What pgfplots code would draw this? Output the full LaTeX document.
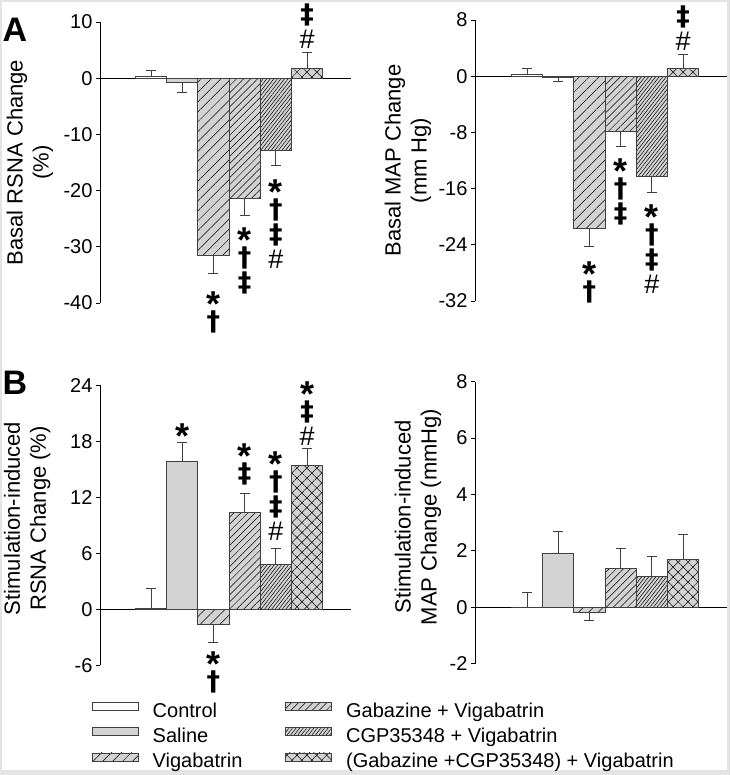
\documentclass[border=0pt]{standalone}
\usepackage{fontspec}
\setmainfont{Liberation Sans}
\newfontfamily\symfont{DejaVu Sans}
\usepackage{pgfplots}
\pgfplotsset{compat=1.18}
\usetikzlibrary{patterns.meta}

\definecolor{barfill}{HTML}{D3D3D3}
\definecolor{barline}{HTML}{404040}
\definecolor{errc}{HTML}{404040}
\definecolor{framec}{HTML}{E4E4E4}

\pgfplotsset{
  panel/.style={
    scale only axis, clip=false,
    axis x line=none, axis y line=left,
    axis line style={-, line width=0.8pt, black},
    xtick=\empty,
    tick align=outside, major tick length=4pt,
    tick style={line width=0.8pt, black},
    yticklabel style={font=\fontsize{20}{20}\selectfont},
    ylabel style={font=\fontsize{22}{26}\selectfont, align=center, anchor=center},
  },
  bstyle/.style={ybar, bar width=1, bar shift=0pt, draw=barline, line width=0.7pt,
    legend image code/.code={\draw[##1] (0pt,2pt) rectangle (46pt,10pt);}},
  c0/.style={bstyle, fill=white},
  c1/.style={bstyle, fill=barfill},
  c2/.style={bstyle, fill=barfill, postaction={pattern={Lines[angle=45,distance=7pt,line width=0.5pt]}, pattern color=black}},
  c3/.style={bstyle, fill=barfill, postaction={pattern={Lines[angle=45,distance=5pt,line width=0.5pt]}, pattern color=black}},
  c4/.style={bstyle, fill=barfill, postaction={pattern={Lines[angle=52,distance=2.8pt,line width=0.5pt]}, pattern color=black}},
  c5/.style={bstyle, fill=barfill, postaction={pattern={Hatch[angle=45,distance=7pt,line width=0.5pt]}, pattern color=black}},
  errp/.style={error bars/.cd, y dir=plus, y explicit,
    error bar style={line width=0.8pt, errc},
    error mark options={rotate=90, mark size=5pt, line width=0.8pt, errc}},
  errm/.style={error bars/.cd, y dir=minus, y explicit,
    error bar style={line width=0.8pt, errc},
    error mark options={rotate=90, mark size=5pt, line width=0.8pt, errc}},
}
\tikzset{sym/.style={font=\fontsize{27}{25}\selectfont, align=center, inner sep=0pt, anchor=north}}
% significance marks: * vs control, dagger vs saline, double dagger vs vigabatrin, # vs combination
\newcommand{\st}{{\fontsize{36}{25}\selectfont\bfseries *}}
\newcommand{\dg}{{\symfont\bfseries †}}
\newcommand{\ddg}{{\symfont\bfseries ‡}}
\newcommand{\hs}{{\fontsize{27}{25}\selectfont\#}}

\begin{document}
\begin{tikzpicture}
\fill[framec] (0pt,0pt) rectangle (730pt,775pt);
\fill[white] (2pt,5pt) rectangle (727pt,773pt);
\path[use as bounding box] (0pt,0pt) rectangle (730pt,775pt);

\node[font=\fontsize{34}{34}\selectfont\bfseries] at (15pt,745pt) {A};
\node[font=\fontsize{34}{34}\selectfont\bfseries] at (15pt,392pt) {B};

% A: basal RSNA
\begin{axis}[panel, at={(100pt,472pt)}, anchor=south west, width=251pt, height=281pt,
  xmin=-0.635, xmax=7.41, ymin=-40, ymax=10,
  ytick={-40,-30,-20,-10,0,10}, yticklabels={-40,-30,-20,-10,0,10},
  ylabel={Basal RSNA Change\\(\%)},
  ylabel style={at={(axis description cs:-0.279,0.5)}}]
\draw[line width=0.8pt] (axis cs:-0.635,0) -- (axis cs:7.41,0);
\addplot[c0, errp] coordinates {(1,0.3) +- (0,1.0)};
\addplot[c1, errm] coordinates {(2,-0.75) +- (0,1.85)};
\addplot[c2, errm] coordinates {(3,-31.5) +- (0,3.3)};
\addplot[c3, errm] coordinates {(4,-21.4) +- (0,3.1)};
\addplot[c4, errm] coordinates {(5,-12.8) +- (0,2.7)};
\addplot[c5, errp] coordinates {(6,1.7) +- (0,2.9)};
\node[sym] at (axis cs:3,-38.0) {\st\\[-11pt]\dg};
\node[sym] at (axis cs:4,-26.6) {\st\\[-11pt]\dg\\\ddg};
\node[sym] at (axis cs:5,-18.1) {\st\\[-11pt]\dg\\\ddg\\\hs};
\node[sym] at (axis cs:6,13.2) {\ddg\\\hs};
\end{axis}

% A: basal MAP
\begin{axis}[panel, at={(475pt,474pt)}, anchor=south west, width=252pt, height=281pt,
  xmin=-0.667, xmax=7.41, ymin=-32, ymax=8,
  ytick={-32,-24,-16,-8,0,8}, yticklabels={-32,-24,-16,-8,0,8},
  ylabel={Basal MAP Change\\(mm Hg)},
  ylabel style={at={(axis description cs:-0.266,0.5)}}]
\draw[line width=0.8pt] (axis cs:-0.667,0) -- (axis cs:7.41,0);
\addplot[c0, errp] coordinates {(1,0.24) +- (0,0.86)};
\addplot[c1, errm] coordinates {(2,-0.1) +- (0,0.6)};
\addplot[c2, errm] coordinates {(3,-21.6) +- (0,2.7)};
\addplot[c3, errm] coordinates {(4,-7.9) +- (0,2.1)};
\addplot[c4, errm] coordinates {(5,-14.3) +- (0,2.2)};
\addplot[c5, errp] coordinates {(6,1.05) +- (0,2.05)};
\node[sym] at (axis cs:3,-26.4) {\st\\[-11pt]\dg};
\node[sym] at (axis cs:4,-11.7) {\st\\[-11pt]\dg\\\ddg};
\node[sym] at (axis cs:5,-18.3) {\st\\[-11pt]\dg\\\ddg\\\hs};
\node[sym] at (axis cs:6,10.1) {\ddg\\\hs};
\end{axis}

% B: stimulation-induced RSNA
\begin{axis}[panel, at={(100pt,109.6pt)}, anchor=south west, width=251pt, height=280pt,
  xmin=-0.635, xmax=7.41, ymin=-6, ymax=24,
  ytick={-6,0,6,12,18,24}, yticklabels={-6,0,6,12,18,24},
  ylabel={Stimulation-induced\\RSNA Change (\%)},
  ylabel style={at={(axis description cs:-0.29,0.525)}},
  legend style={at={(axis description cs:-0.0319,-0.13)}, anchor=north west,
    draw=none, fill=none, inner sep=0pt, outer sep=0pt,
    font=\fontsize{20}{20}\selectfont,
    nodes={inner sep=0pt, text height=14.5pt, text depth=4.5pt},
    row sep=5.5pt,
    /tikz/every odd column/.append style={column sep=14pt},
    /tikz/every even column/.append style={column sep=43pt}},
  legend columns=3, transpose legend, legend cell align=left]
\draw[line width=0.8pt] (axis cs:-0.635,0) -- (axis cs:7.41,0);
\addplot[c0, errp] coordinates {(1,0.15) +- (0,2.1)};
\addlegendentry{Control}
\addplot[c1, errp] coordinates {(2,15.9) +- (0,2.0)};
\addlegendentry{Saline}
\addplot[c2, errm] coordinates {(3,-1.6) +- (0,1.9)};
\addlegendentry{Vigabatrin}
\addplot[c3, errp] coordinates {(4,10.4) +- (0,2.0)};
\addlegendentry{Gabazine + Vigabatrin}
\addplot[c4, errp] coordinates {(5,4.85) +- (0,1.65)};
\addlegendentry{CGP35348 + Vigabatrin}
\addplot[c5, errp] coordinates {(6,15.4) +- (0,1.9)};
\addlegendentry{(Gabazine +CGP35348) + Vigabatrin}
\node[sym] at (axis cs:2,19.9) {\st};
\node[sym] at (axis cs:3,-4.5) {\st\\[-11pt]\dg};
\node[sym] at (axis cs:4,17.8) {\st\\[-11pt]\ddg};
\node[sym] at (axis cs:5,16.9) {\st\\[-11pt]\dg\\\ddg\\\hs};
\node[sym] at (axis cs:6,24.4) {\st\\[-11pt]\ddg\\\hs};
\end{axis}

% B: stimulation-induced MAP
\begin{axis}[panel, at={(475pt,111.3pt)}, anchor=south west, width=252pt, height=282pt,
  xmin=-0.667, xmax=7.41, ymin=-2, ymax=8,
  ytick={-2,0,2,4,6,8}, yticklabels={-2,0,2,4,6,8},
  ylabel={Stimulation-induced\\MAP Change (mmHg)},
  ylabel style={at={(axis description cs:-0.226,0.52)}}]
\draw[line width=0.8pt] (axis cs:-0.667,0) -- (axis cs:7.41,0);
\addplot[c0, errp] coordinates {(1,0) +- (0,0.52)};
\addplot[c1, errp] coordinates {(2,1.9) +- (0,0.8)};
\addplot[c2, errm] coordinates {(3,-0.19) +- (0,0.28)};
\addplot[c3, errp] coordinates {(4,1.39) +- (0,0.7)};
\addplot[c4, errp] coordinates {(5,1.1) +- (0,0.7)};
\addplot[c5, errp] coordinates {(6,1.7) +- (0,0.9)};
\end{axis}
\end{tikzpicture}
\end{document}
